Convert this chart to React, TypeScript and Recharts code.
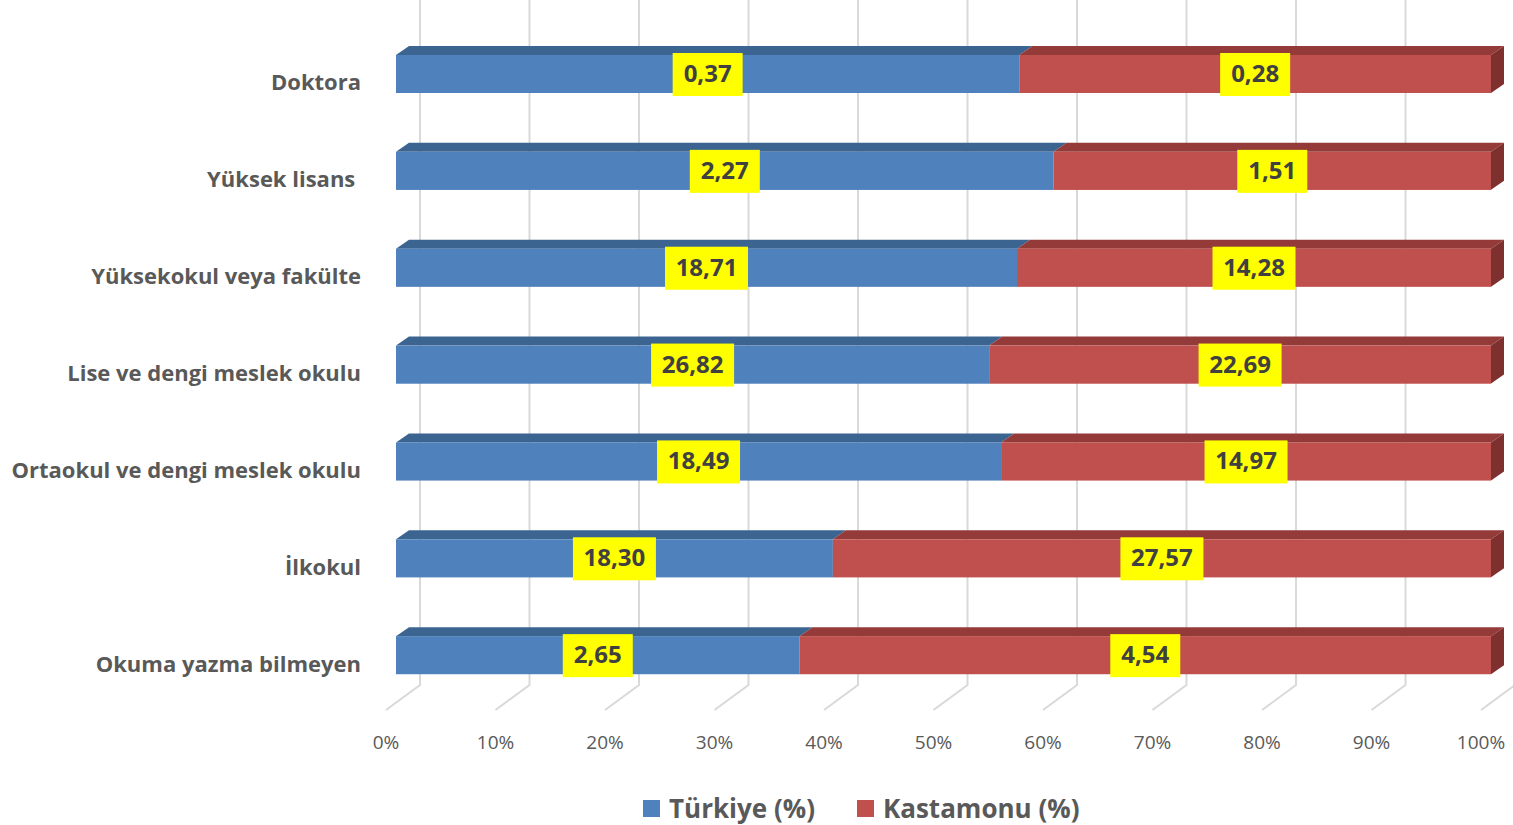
import { BarChart, Bar, XAxis, YAxis, CartesianGrid, LabelList } from 'recharts';

const CATEGORIES = [
  'Doktora',
  'Yüksek lisans ',
  'Yüksekokul veya fakülte',
  'Lise ve dengi meslek okulu',
  'Ortaokul ve dengi meslek okulu',
  'İlkokul',
  'Okuma yazma bilmeyen',
];
const TURKIYE = [0.37, 2.27, 18.71, 26.82, 18.49, 18.3, 2.65];
const KASTAMONU = [0.28, 1.51, 14.28, 22.69, 14.97, 27.57, 4.54];
const TICKS = [0, 0.1, 0.2, 0.3, 0.4, 0.5, 0.6, 0.7, 0.8, 0.9, 1];
const SERIES = [
  { key: 'tr', name: 'Türkiye (%)', color: '#4f81bd' },
  { key: 'ks', name: 'Kastamonu (%)', color: '#c0504d' },
];

const data = CATEGORIES.map((name, i) => ({ name, tr: TURKIYE[i], ks: KASTAMONU[i] }));

const FONT = '"Open Sans", sans-serif';
const DX = 13;
const DY = 9;

const fmt = (v: number) => v.toFixed(2).replace('.', ',');

function barShape(front: string, top: string, side?: string) {
  return (p: any) => {
    const { x, y, width, height } = p;
    return (
      <g>
        <polygon
          points={`${x},${y} ${x + DX},${y - DY} ${x + width + DX},${y - DY} ${x + width},${y}`}
          fill={top}
        />
        {side && (
          <polygon
            points={`${x + width},${y} ${x + width + DX},${y - DY} ${x + width + DX},${y + height - DY} ${x + width},${y + height}`}
            fill={side}
          />
        )}
        <rect x={x} y={y} width={width} height={height} fill={front} />
        <line x1={x} y1={y + height - 0.5} x2={x + width} y2={y + height - 0.5} stroke={front} strokeOpacity={0.6} />
      </g>
    );
  };
}

const valueLabel = (p: any) => {
  const { x, y, width, height, value } = p;
  const text = fmt(Number(value));
  const w = text.length * 13 + 18;
  const cx = x + width / 2;
  const cy = y + height / 2;
  return (
    <g>
      <rect x={cx - w / 2} y={cy - 21} width={w} height={43} fill="#ffff00" />
      <text x={cx} y={cy + 8} textAnchor="middle" fontFamily={FONT} fontWeight={700} fontSize={24} fill="#404040">
        {text}
      </text>
    </g>
  );
};

// back wall line + floor diagonal for each x tick
const gridLine = (p: any) => {
  const bx = p.x1 + 24;
  return (
    <polyline key={`g-${p.index}-${p.x1}`} points={`${bx},0 ${bx},685 ${bx - 34},710`} fill="none" stroke="#d9d9d9" strokeWidth={2} />
  );
};

const XTick = (p: any) => {
  const { x, payload } = p;
  return (
    <text x={x - 10} y={749} textAnchor="middle" fontFamily={FONT} fontSize={19} fill="#595959">
      {Math.round(payload.value * 100)}%
    </text>
  );
};

const YTick = (p: any) => {
  const { y, payload } = p;
  return (
    <text x={361} y={y + 16} textAnchor="end" fontFamily={FONT} fontWeight={700} fontSize={22} fill="#595959" style={{ whiteSpace: 'pre' }}>
      {payload.value}
    </text>
  );
};

export default function App() {
  return (
    <div style={{ position: 'absolute', left: 0, top: 0, width: 1513, height: 825, background: '#fff' }}>
      <style>{'body{margin:0}'}</style>
      <BarChart
        width={1513}
        height={825}
        data={data}
        layout="vertical"
        stackOffset="expand"
        barSize={38}
        margin={{ top: 26, right: 22, left: 0, bottom: 91 }}
      >
        <CartesianGrid horizontal={false} vertical={gridLine} />
        <XAxis
          type="number"
          domain={[0, 1]}
          ticks={TICKS}
          axisLine={false}
          tickLine={false}
          tick={<XTick />}
          interval={0}
          height={30}
        />
        <YAxis type="category" dataKey="name" width={396} axisLine={false} tickLine={false} tick={<YTick />} interval={0} />
        <Bar dataKey="tr" name={SERIES[0].name} stackId="a" isAnimationActive={false} shape={barShape('#4f81bd', '#3c6491')}>
          <LabelList dataKey="tr" content={valueLabel} />
        </Bar>
        <Bar dataKey="ks" name={SERIES[1].name} stackId="a" isAnimationActive={false} shape={barShape('#c0504d', '#943b39', '#7e302e')}>
          <LabelList dataKey="ks" content={valueLabel} />
        </Bar>
      </BarChart>
      <div
        style={{
          position: 'absolute', left: 643, top: 790, display: 'flex', gap: 42,
          fontFamily: FONT, fontWeight: 700, fontSize: 26, color: '#595959', lineHeight: '36px',
        }}
      >
        {SERIES.map(s => (
          <div key={s.key} style={{ display: 'flex', alignItems: 'center' }}>
            <span style={{ display: 'inline-block', width: 17, height: 17, background: s.color, marginRight: 9 }} />
            {s.name}
          </div>
        ))}
      </div>
    </div>
  );
}
